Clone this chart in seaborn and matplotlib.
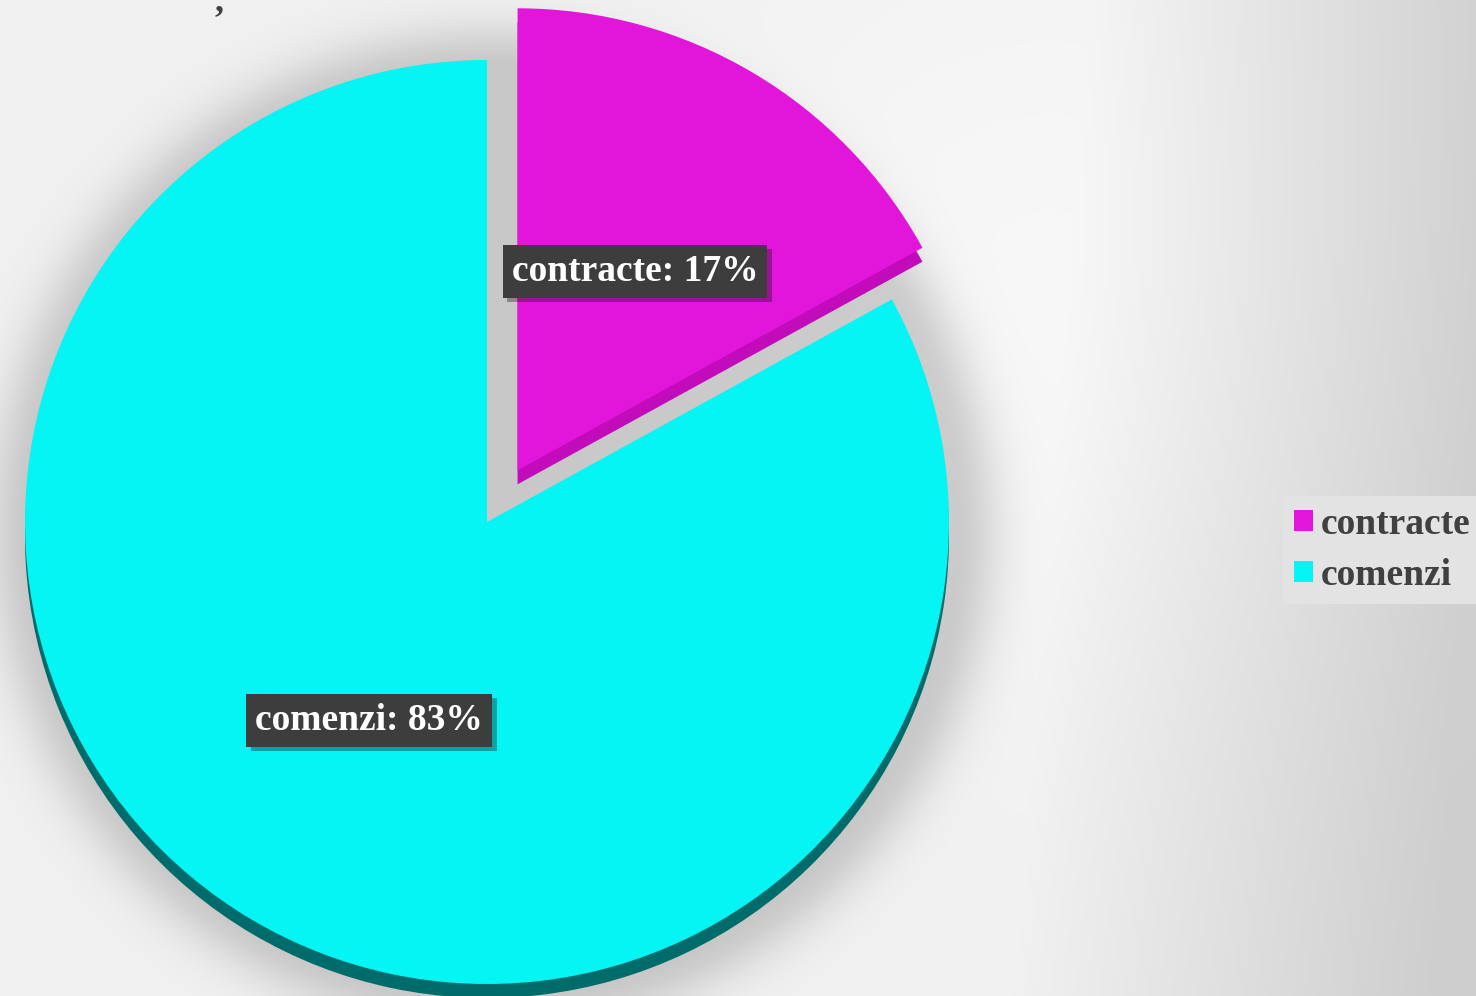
import numpy as np
import matplotlib
matplotlib.use("Agg")
import matplotlib.pyplot as plt
import matplotlib.patheffects as pe
import seaborn as sns

# data
labels = ["contracte", "comenzi"]
values = [17, 83]
colors = ["#e216da", "#05f4f4"]
rim_colors = ["#c20cbc", "#006b6b"]

sns.set_theme(style="white")
plt.rcParams['font.family'] = ['Liberation Serif', 'DejaVu Serif']

W, H = 1476, 996
fig = plt.figure(figsize=(W / 100, H / 100), dpi=100)

# background: light grey gradient, darker to the right, with soft pie shadow
yy, xx = np.mgrid[0:H, 0:W]
bg = 0.945 - 0.135 * np.clip((xx + 0.08 * yy - 1090) / 420, 0, 1)
bg = bg + 0.025 * np.exp(-(((xx - 1050) / 380) ** 2 + ((yy - 300) / 380) ** 2))
R = 462
cx, cy = 487, 522
d = np.hypot(xx - (cx + 6), yy - (cy + 8))
sh = np.where(d < R, 1.0, np.exp(-((d - R) / 45) ** 2))
bg = bg * (1 - 0.17 * sh)
bg = np.clip(bg, 0, 1)

bax = fig.add_axes([0, 0, 1, 1], zorder=0)
bax.imshow(np.dstack([bg, bg, bg]), extent=(0, W, 0, H), origin="upper", aspect="auto")
bax.set_axis_off()

ax = fig.add_axes([0, 0, 1, 1], zorder=1)
ax.patch.set_alpha(0)

# explode is in data units here (radius is in pixels)
explode = [0.13 * R, 0]
center = (cx, H - cy)

# 3d rim: darker copy shifted down
ax.pie(values, colors=rim_colors, startangle=90, counterclock=False, explode=explode,
       radius=R, center=(center[0], center[1] - 14), frame=True,
       wedgeprops=dict(linewidth=0))

wedges, texts, autotexts = ax.pie(
    values, colors=colors, startangle=90, counterclock=False, explode=explode,
    radius=R, center=center, frame=True, autopct="%d%%", pctdistance=0.5,
    wedgeprops=dict(linewidth=0))

for t, lab, v in zip(autotexts, labels, values):
    t.set_text(f"{lab}: {v}%")
    t.set_fontsize(27)
    t.set_fontweight("bold")
    t.set_color("white")
    t.set_bbox(dict(boxstyle="square,pad=0.24", fc="#3d3d3d", ec="none"))
    t.get_bbox_patch().set_path_effects(
        [pe.SimplePatchShadow(offset=(3, -3), alpha=0.35), pe.Normal()])

ax.set_xlim(0, W)
ax.set_ylim(0, H)
ax.set_axis_off()

leg = ax.legend(wedges, labels, loc="center right", bbox_to_anchor=(1.004, 0.448),
                bbox_transform=fig.transFigure, frameon=True, fancybox=False,
                facecolor="#e3e3e3", edgecolor="none", framealpha=1,
                prop=dict(family="Liberation Serif", weight="bold", size=27),
                handlelength=0.5, handleheight=0.5, handletextpad=0.22,
                labelspacing=0.42, borderpad=0.3, borderaxespad=0)
for t in leg.get_texts():
    t.set_color("#404040")

# title fragment at the top (only its comma is visible)
fig.text(215 / W, 0.990, ",", fontsize=26, fontweight="bold", color="#404040",
         va="baseline", ha="left")

fig.savefig("out.png", dpi=100)
